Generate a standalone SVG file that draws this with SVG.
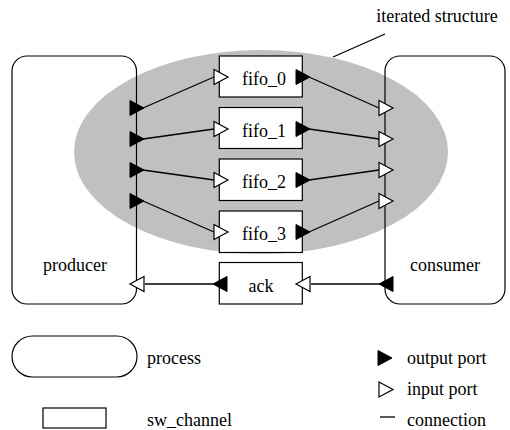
<svg xmlns="http://www.w3.org/2000/svg" width="510" height="430" viewBox="0 0 510 430" font-family="'Liberation Serif', 'DejaVu Serif', serif" font-size="18">
<style>
text{font-family:'Liberation Serif','DejaVu Serif',serif;font-size:18px;fill:#000}
.c{text-anchor:middle}
.box{fill:#fff;stroke:#000;stroke-width:1.2}
.proc{fill:none;stroke:#000;stroke-width:1.2}
.ln{stroke:#000;stroke-width:1.3;fill:none}
.out{fill:#000;stroke:#000;stroke-width:1}
.in{fill:#fff;stroke:#000;stroke-width:1.2}
</style>
<defs>
<polygon id="tr" points="0,-7.5 14,0 0,7.5"/>
<polygon id="tl" points="0,-7.5 -14,0 0,7.5"/>
</defs>
<rect width="510" height="430" fill="#fff"/>
<g id="iterated">
<ellipse cx="261" cy="152" rx="187" ry="102" fill="#c0c0c0"/>
<line class="ln" x1="333" y1="57" x2="385" y2="34"/>
<text x="437" y="22" class="c">iterated structure</text>
</g>
<g id="producer">
<rect class="proc" x="12" y="56" width="124.5" height="248" rx="15" ry="15"/>
<text x="75" y="271" class="c">producer</text>
</g>
<g id="consumer">
<rect class="proc" x="385" y="56" width="120" height="248" rx="15" ry="15"/>
<text x="445" y="271" class="c">consumer</text>
</g>
<g id="fifo_0"><rect class="box" x="219.3" y="56" width="83" height="41"/><text x="264" y="85" class="c">fifo_0</text></g>
<g id="fifo_1"><rect class="box" x="219.3" y="107.5" width="83" height="41"/><text x="264" y="136.5" class="c">fifo_1</text></g>
<g id="fifo_2"><rect class="box" x="219.3" y="159" width="83" height="41.5"/><text x="264" y="188" class="c">fifo_2</text></g>
<g id="fifo_3"><rect class="box" x="219.3" y="211" width="83" height="41.5"/><text x="264" y="240" class="c">fifo_3</text></g>
<g id="ack"><rect class="box" x="219.3" y="262.5" width="83" height="41.5"/><text x="261" y="292" class="c">ack</text></g>
<g id="connectors">
<line class="ln" x1="143" y1="108" x2="214" y2="77"/>
<line class="ln" x1="143" y1="139" x2="214" y2="129"/>
<line class="ln" x1="143" y1="170" x2="214" y2="180"/>
<line class="ln" x1="143" y1="201" x2="214" y2="232"/>
<line class="ln" x1="309" y1="77" x2="379" y2="108"/>
<line class="ln" x1="309" y1="129" x2="379" y2="139"/>
<line class="ln" x1="309" y1="180" x2="379" y2="170"/>
<line class="ln" x1="309" y1="232" x2="379" y2="201"/>
<line class="ln" x1="380" y1="284" x2="311" y2="284"/>
<line class="ln" x1="213" y1="284" x2="145" y2="284"/>
</g>
<g id="ports">
<use href="#tr" class="out" x="130" y="108"/>
<use href="#tr" class="out" x="130" y="139"/>
<use href="#tr" class="out" x="130" y="170"/>
<use href="#tr" class="out" x="130" y="201"/>
<use href="#tr" class="in" x="214" y="77"/>
<use href="#tr" class="in" x="214" y="129"/>
<use href="#tr" class="in" x="214" y="180"/>
<use href="#tr" class="in" x="214" y="232"/>
<use href="#tr" class="out" x="296" y="77"/>
<use href="#tr" class="out" x="296" y="129"/>
<use href="#tr" class="out" x="296" y="180"/>
<use href="#tr" class="out" x="296" y="232"/>
<use href="#tr" class="in" x="379" y="108"/>
<use href="#tr" class="in" x="379" y="139"/>
<use href="#tr" class="in" x="379" y="170"/>
<use href="#tr" class="in" x="379" y="201"/>
<use href="#tl" class="out" x="393" y="284"/>
<use href="#tl" class="in" x="310" y="284"/>
<use href="#tl" class="out" x="227" y="284"/>
<use href="#tl" class="in" x="144" y="284"/>
</g>
<g id="legend">
<rect class="proc" x="12" y="336" width="125" height="41" rx="20.5" ry="20.5"/>
<text x="147" y="364">process</text>
<rect class="box" x="43" y="408" width="63" height="20"/>
<text x="147" y="426">sw_channel</text>
<use href="#tr" class="out" x="378" y="358"/>
<text x="407" y="364">output port</text>
<use href="#tr" class="in" x="379" y="389.5"/>
<text x="407" y="395">input port</text>
<line class="ln" x1="380" y1="417" x2="395" y2="417"/>
<text x="407" y="426">connection</text>
</g>
</svg>
